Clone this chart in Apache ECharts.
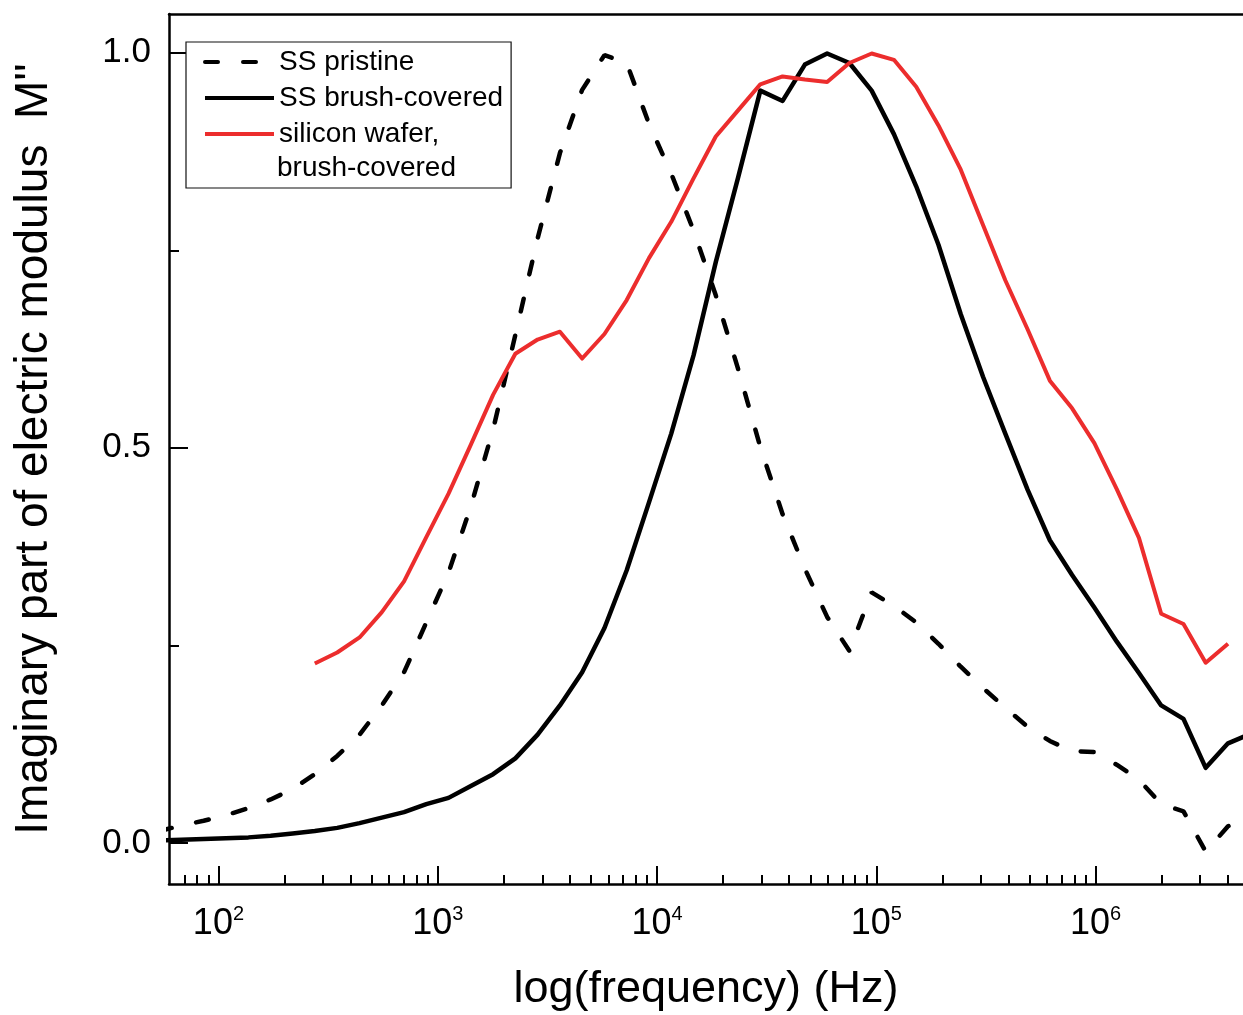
<!DOCTYPE html>
<html>
<head>
<meta charset="utf-8">
<title>Imaginary part of electric modulus</title>
<script src="https://cdn.jsdelivr.net/npm/echarts@6.0.0/dist/echarts.min.js"></script>
<style>
html, body { margin: 0; padding: 0; background: #fff; }
#main { width: 1243px; height: 1015px; }
</style>
</head>
<body>
<div id="main"></div>
<script>
// measurement frequencies (Hz), shared by all three curves
var freqHz = [53.6, 67.7, 85.6, 108, 137, 173, 218,
    275, 348, 440, 556, 702, 887, 1120, 1416, 1788, 2259,
    2854, 3607, 4556, 5758, 7273, 9190, 11610, 14670, 18530, 23420,
    29580, 37380, 47220, 59660, 75370, 95230, 120300, 152000, 192000, 242700,
    306600, 387400, 489400, 618400, 781200, 987000, 1247000, 1576000, 1991000, 2516000,
    3177000, 4015000, 5072000];

// SS pristine (dashed)
var ssPristine = [0.015, 0.022, 0.028, 0.035, 0.044, 0.055, 0.068,
    0.087, 0.110, 0.137, 0.174, 0.216, 0.279, 0.342, 0.426, 0.523, 0.643,
    0.765, 0.873, 0.953, 0.997, 0.987, 0.910, 0.847, 0.775, 0.693, 0.600,
    0.501, 0.416, 0.347, 0.286, 0.243, 0.317, 0.300, 0.279, 0.252, 0.223,
    0.196, 0.171, 0.147, 0.129, 0.116, 0.115, 0.099, 0.080, 0.049, 0.040,
    -0.011, 0.021, 0.034];

// SS brush-covered (solid black)
var ssBrush = [0.003, 0.004, 0.005, 0.006, 0.007, 0.009, 0.012,
    0.015, 0.019, 0.025, 0.032, 0.039, 0.049, 0.057, 0.072, 0.087, 0.107,
    0.137, 0.174, 0.216, 0.272, 0.345, 0.431, 0.518, 0.617, 0.735, 0.842,
    0.952, 0.939, 0.985, 0.999, 0.987, 0.952, 0.897, 0.831, 0.757, 0.669,
    0.590, 0.518, 0.447, 0.383, 0.339, 0.298, 0.255, 0.215, 0.174, 0.157,
    0.095, 0.126, 0.138];

// silicon wafer, brush-covered (red) - starts at freqHz[7]
var siliconStart = 7;
var siliconBrush = [0.227, 0.241, 0.260, 0.292, 0.331, 0.387, 0.442, 0.504, 0.567, 0.619,
    0.637, 0.647, 0.613, 0.644, 0.687, 0.740, 0.786, 0.841, 0.894, 0.927,
    0.960, 0.970, 0.966, 0.963, 0.987, 0.999, 0.991, 0.957, 0.908, 0.852,
    0.782, 0.712, 0.650, 0.585, 0.550, 0.506, 0.448, 0.386, 0.290, 0.277,
    0.228, 0.252];

var seriesNames = ['SS pristine', 'SS brush-covered', 'silicon wafer,\nbrush-covered'];

var xMin = 59.5, xMax = 4.7e6;
var yMin = -0.052, yMax = 1.049;
var xMajorExp = [2, 3, 4, 5, 6];
var yMajor = [0, 0.5, 1.0];
var yMinor = [0.25, 0.75];

var FONT = '"Liberation Sans", Arial, Helvetica, sans-serif';

function pairs(xs, ys, start) {
    var out = [];
    for (var i = 0; i < ys.length; i++) {
        out.push([xs[start + i], ys[i]]);
    }
    return out;
}

// minor tick positions (2..9 x 10^n), in log10 units for the helper axis
var xMinorPos = [];
for (var d = 1; d <= 6; d++) {
    for (var m = 2; m <= 9; m++) {
        var v = m * Math.pow(10, d);
        if (v > xMin * 1.1 && v < xMax) xMinorPos.push(Math.log10(v));
    }
}
var lMin = Math.log10(xMin), lMax = Math.log10(xMax);

var myChart = echarts.init(document.getElementById('main'));

var option = {
    animation: false,
    backgroundColor: '#fff',
    textStyle: { fontFamily: FONT, color: '#000' },
    grid: {
        left: 169,
        right: 0,
        top: 14,
        bottom: 131,
        containLabel: false,
        outerBoundsMode: 'none'
    },
    legend: {
        data: seriesNames,
        left: 186,
        top: 42,
        orient: 'vertical',
        padding: [6, 8, 40, 17],
        itemWidth: 69,
        itemHeight: 14,
        itemGap: 8,
        borderColor: '#111',
        borderWidth: 1.2,
        backgroundColor: '#fff',
        selectedMode: false,
        itemStyle: { opacity: 0 },
        lineStyle: { width: 4 },
        textStyle: { fontSize: 28, lineHeight: 28, fontFamily: FONT, color: '#000' },
        formatter: function (name) {
            return name.split('\n')[0];
        }
    },
    graphic: [{
        type: 'text',
        x: 277,
        y: 168,
        z: 10,
        style: {
            text: 'brush-covered',
            fontSize: 28,
            fontFamily: FONT,
            fill: '#000',
            verticalAlign: 'middle'
        }
    }],
    xAxis: [
        {
            type: 'log',
            position: 'bottom',
            min: xMin,
            max: xMax,
            name: 'log(frequency) (Hz)',
            nameLocation: 'middle',
            nameGap: 83,
            nameTextStyle: { fontSize: 45, color: '#000', fontFamily: FONT },
            axisLine: { show: true, onZero: false, lineStyle: { color: '#000', width: 2.5 } },
            axisTick: { show: false },
            splitLine: { show: false },
            axisLabel: {
                margin: 20,
                showMinLabel: false,
                showMaxLabel: false,
                formatter: function (val) {
                    var e = Math.log10(val);
                    if (Math.abs(e - Math.round(e)) > 1e-6) return '';
                    return '{b|10}{s|' + Math.round(e) + '}';
                },
                rich: {
                    b: { fontSize: 36, lineHeight: 40, fontFamily: FONT, color: '#000', verticalAlign: 'middle' },
                    s: { fontSize: 20, lineHeight: 20, fontFamily: FONT, color: '#000', verticalAlign: 'top' }
                }
            }
        },
        {
            // major ticks, log10 units
            type: 'value',
            position: 'bottom',
            min: lMin,
            max: lMax,
            axisLine: { show: false, onZero: false },
            axisLabel: { show: false },
            splitLine: { show: false },
            axisTick: {
                show: true, inside: true, length: 18,
                customValues: xMajorExp,
                lineStyle: { color: '#000', width: 2 }
            }
        },
        {
            // minor ticks, log10 units
            type: 'value',
            position: 'bottom',
            min: lMin,
            max: lMax,
            axisLine: { show: false, onZero: false },
            axisLabel: { show: false },
            splitLine: { show: false },
            axisTick: {
                show: true, inside: true, length: 9,
                customValues: xMinorPos,
                lineStyle: { color: '#000', width: 2 }
            }
        },
        {
            // top frame line
            type: 'value',
            position: 'top',
            min: lMin,
            max: lMax,
            axisLine: { show: true, onZero: false, lineStyle: { color: '#000', width: 2.5 } },
            axisTick: { show: false },
            axisLabel: { show: false },
            splitLine: { show: false }
        }
    ],
    yAxis: [
        {
            type: 'value',
            position: 'left',
            min: yMin,
            max: yMax,
            name: "Imaginary part of electric modulus  M''",
            nameLocation: 'middle',
            nameRotate: 90,
            nameGap: 112,
            nameTextStyle: { fontSize: 46, color: '#000', fontFamily: FONT },
            axisLine: { show: true, onZero: false, lineStyle: { color: '#000', width: 2.5 } },
            axisTick: {
                show: true, inside: true, length: 19,
                customValues: yMajor,
                lineStyle: { color: '#000', width: 2 }
            },
            axisLabel: {
                margin: 18,
                fontSize: 35,
                color: '#000',
                fontFamily: FONT,
                customValues: yMajor,
                formatter: function (v) { return v.toFixed(1); }
            },
            splitLine: { show: false }
        },
        {
            type: 'value',
            position: 'left',
            min: yMin,
            max: yMax,
            axisLine: { show: false, onZero: false },
            axisLabel: { show: false },
            splitLine: { show: false },
            axisTick: {
                show: true, inside: true, length: 10,
                customValues: yMinor,
                lineStyle: { color: '#000', width: 2 }
            }
        }
    ],
    series: [
        {
            name: seriesNames[0],
            type: 'line',
            xAxisIndex: 0,
            yAxisIndex: 0,
            symbol: 'none',
            color: '#000',
            lineStyle: { color: '#000', width: 4.5, type: [13, 25], cap: 'round' },
            data: pairs(freqHz, ssPristine, 0)
        },
        {
            name: seriesNames[1],
            type: 'line',
            xAxisIndex: 0,
            yAxisIndex: 0,
            symbol: 'none',
            clip: false,
            color: '#000',
            lineStyle: { color: '#000', width: 4.5, join: 'round' },
            data: pairs(freqHz, ssBrush, 0)
        },
        {
            name: seriesNames[2],
            type: 'line',
            xAxisIndex: 0,
            yAxisIndex: 0,
            symbol: 'none',
            color: '#ec2d2d',
            lineStyle: { color: '#ec2d2d', width: 4, join: 'round' },
            data: pairs(freqHz, siliconBrush, siliconStart)
        }
    ]
};

myChart.setOption(option);
</script>
</body>
</html>
